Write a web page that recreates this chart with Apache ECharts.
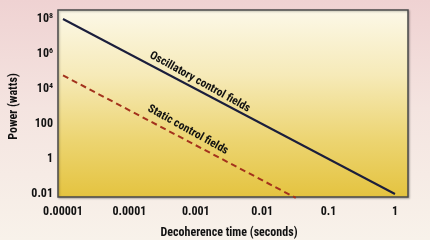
<!DOCTYPE html>
<html><head><meta charset="utf-8">
<script src="https://cdn.jsdelivr.net/npm/echarts@6/dist/echarts.min.js"></script>
<style>
html,body{margin:0;padding:0;}
#c{width:430px;height:240px;background:linear-gradient(180deg,#efd2d2 0%,#f4e4e0 45%,#f8f2ea 100%);}
</style></head>
<body><div id="c"></div>
<script>
// Decoherence time (s) vs power (W)
const oscTimes = [0.00001, 1];
const oscPower = [1e8, 0.01];
const staticTimes = [0.00001, 0.032];
const staticPower = [6e4, 0.006];
const xTicks = [0.00001, 0.0001, 0.001, 0.01, 0.1, 1];
const xTickLabels = ['0.00001', '0.0001', '0.001', '0.01', '0.1', '1'];
const yTicks = [0.01, 1, 100, 1e4, 1e6, 1e8];
const yTickLabels = ['0.01', '1', '100', '{b|10}{s|4}', '{b|10}{s|6}', '{b|10}{s|8}'];

const FONT = "'Roboto Condensed','Open Sans Condensed',sans-serif";
const chart = echarts.init(document.getElementById('c'), null, {renderer: 'canvas'});
const pair = (xs, ys) => xs.map((x, i) => [x, ys[i]]);
const findLabel = (ticks, labels, v) => {
  const i = ticks.findIndex(t => Math.abs(Math.log10(t) - Math.log10(v)) < 1e-6);
  return i >= 0 ? labels[i] : '';
};
const txt = {fontFamily: FONT, fontWeight: 'bold', color: '#111'};

chart.setOption({
  animation: false,
  grid: {left: 63, right: 35, top: 19, bottom: 46, outerBoundsMode: 'none', containLabel: false},
  graphic: [
    {type: 'rect', z: -1, shape: {x: 58, y: 10, width: 350, height: 187},
     style: {fill: new echarts.graphic.LinearGradient(0, 0, 0, 1, [
        {offset: 0, color: '#fcf8e8'}, {offset: 0.35, color: '#f6eab8'},
        {offset: 0.7, color: '#ecd470'}, {offset: 1, color: '#e4c33f'}]),
        stroke: '#4a4a4a', lineWidth: 1.5,
        shadowColor: 'rgba(0,0,0,0.25)', shadowBlur: 2, shadowOffsetX: 1, shadowOffsetY: 1}}
  ],
  xAxis: {
    type: 'log', logBase: 10, min: 0.00001, max: 1,
    name: 'Decoherence time (seconds)', nameLocation: 'middle', nameGap: 33,
    nameTextStyle: Object.assign({fontSize: 12}, txt),
    axisLine: {show: false}, axisTick: {show: false}, splitLine: {show: false},
    axisLabel: Object.assign({margin: 12, fontSize: 12,
      formatter: v => findLabel(xTicks, xTickLabels, v)}, txt)
  },
  yAxis: {
    type: 'log', logBase: 100, min: 0.01, max: 1e8,
    name: 'Power (watts)', nameLocation: 'middle', nameGap: 42, nameRotate: 90,
    nameTextStyle: Object.assign({fontSize: 12}, txt),
    axisLine: {show: false}, axisTick: {show: false}, splitLine: {show: false},
    axisLabel: Object.assign({margin: 10, fontSize: 12,
      formatter: v => findLabel(yTicks, yTickLabels, v),
      rich: {b: Object.assign({fontSize: 12}, txt),
             s: Object.assign({fontSize: 8, padding: [0, 0, 7, 0]}, txt)}}, txt)
  },
  series: [
    {type: 'line', data: pair(oscTimes, oscPower), symbol: 'none', clip: false,
     lineStyle: {color: '#1b1e3c', width: 2},
     markPoint: {symbol: 'circle', symbolSize: 0, silent: true,
       data: [{coord: [0.00115, 2.5e4], label: Object.assign({show: true, position: 'inside', formatter: 'Oscillatory control fields', rotate: -29,
         fontSize: 11.5}, txt)}]}},
    {type: 'line', data: pair(staticTimes, staticPower), symbol: 'none', clip: false,
     lineStyle: {color: '#a3321c', width: 2, type: [6, 4]},
     markPoint: {symbol: 'circle', symbolSize: 0, silent: true,
       data: [{coord: [0.00076, 46], label: Object.assign({show: true, position: 'inside', formatter: 'Static control fields', rotate: -29,
         fontSize: 11.5}, txt)}]}}
  ]
});
</script></body></html>
